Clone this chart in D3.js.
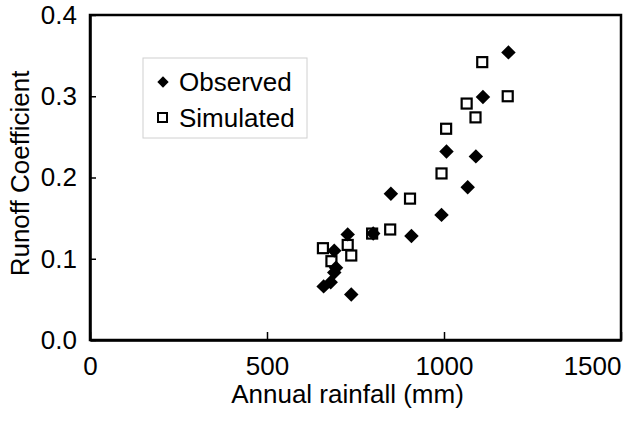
<!DOCTYPE html>
<html>
<head>
<meta charset="utf-8">
<script src="https://cdn.jsdelivr.net/npm/d3@7"></script>
<style>
  body { margin: 0; background: #fff; }
  text { font-family: "Liberation Sans", Arial, sans-serif; fill: #000; }
</style>
</head>
<body>
<div id="chart"></div>
<script>
// data
var obsRain = [660, 680, 690, 695, 690, 728, 738, 800, 850, 908, 993, 1007, 1067, 1090, 1110, 1182];
var obsCoef = [0.066, 0.071, 0.083, 0.089, 0.110, 0.130, 0.056, 0.131, 0.180, 0.128, 0.154, 0.232, 0.188, 0.226, 0.299, 0.354];
var simRain = [658, 682, 728, 738, 797, 848, 904, 993, 1006, 1064, 1089, 1108, 1180];
var simCoef = [0.113, 0.097, 0.117, 0.104, 0.131, 0.136, 0.174, 0.205, 0.260, 0.291, 0.274, 0.342, 0.300];
var xTicks = [0, 500, 1000, 1500];
var yTicks = [0, 0.1, 0.2, 0.3, 0.4];

var margin = { top: 15, right: 2, bottom: 85, left: 90 },
    width = 623 - margin.left - margin.right,
    height = 425 - margin.top - margin.bottom;

var svg = d3.select("#chart")
    .append("svg")
    .attr("width", 623)
    .attr("height", 425)
    .append("g")
    .attr("transform", "translate(" + margin.left + "," + margin.top + ")");

var x = d3.scaleLinear().domain([0, 1500]).range([0, width]);
var y = d3.scaleLinear().domain([0, 0.4]).range([height, 0]);

// frame
svg.append("rect")
    .attr("width", width)
    .attr("height", height)
    .attr("fill", "none")
    .attr("stroke", "#000")
    .attr("stroke-width", 2.5);

// X axis
var gx = svg.append("g")
    .attr("transform", "translate(0," + height + ")")
    .call(d3.axisBottom(x).tickValues(xTicks).tickSizeInner(-8).tickSizeOuter(0).tickPadding(17)
        .tickFormat(d3.format("d")));
gx.select(".domain").attr("stroke-width", 2.5);
gx.selectAll(".tick line").attr("stroke-width", 1.5);
gx.selectAll("text").style("font-size", "26px").attr("font-family", null);
gx.selectAll(".tick").filter(function (d) { return d === 1500; })
    .select("text").attr("text-anchor", "end");

// Y axis
var gy = svg.append("g")
    .call(d3.axisLeft(y).tickValues(yTicks).tickSizeInner(-6).tickSizeOuter(0).tickPadding(13)
        .tickFormat(d3.format(".1f")));
gy.select(".domain").attr("stroke-width", 2.5);
gy.selectAll(".tick line").attr("stroke-width", 1.5);
gy.selectAll("text").style("font-size", "26px").attr("font-family", null);

// axis titles
svg.append("text")
    .attr("text-anchor", "middle")
    .attr("x", width / 2 - 8)
    .attr("y", height + 63)
    .style("font-size", "26px")
    .text("Annual rainfall (mm)");

svg.append("text")
    .attr("text-anchor", "middle")
    .attr("transform", "rotate(-90)")
    .attr("x", -(height / 2) + 4)
    .attr("y", -61)
    .style("font-size", "26px")
    .text("Runoff Coefficient");

var diamond = d3.symbol().type(d3.symbolSquare).size(105);

// simulated: open squares
svg.append("g").selectAll("rect")
    .data(d3.range(simRain.length))
    .enter()
    .append("rect")
    .attr("x", function (i) { return x(simRain[i]) - 5; })
    .attr("y", function (i) { return y(simCoef[i]) - 5; })
    .attr("width", 10)
    .attr("height", 10)
    .attr("fill", "#fff")
    .attr("stroke", "#000")
    .attr("stroke-width", 2.2);

// observed: filled diamonds
svg.append("g").selectAll("path")
    .data(d3.range(obsRain.length))
    .enter()
    .append("path")
    .attr("d", diamond)
    .attr("transform", function (i) {
        return "translate(" + x(obsRain[i]) + "," + y(obsCoef[i]) + ") rotate(45)";
    })
    .attr("fill", "#000");

// legend
var legend = svg.append("g").attr("transform", "translate(53,43)");
legend.append("rect")
    .attr("width", 164)
    .attr("height", 80)
    .attr("fill", "#fff")
    .attr("stroke", "#d0d0d0")
    .attr("stroke-width", 1);
legend.append("path")
    .attr("d", d3.symbol().type(d3.symbolSquare).size(64))
    .attr("transform", "translate(20,24) rotate(45)")
    .attr("fill", "#000");
legend.append("rect")
    .attr("x", 15).attr("y", 55)
    .attr("width", 9).attr("height", 9)
    .attr("fill", "#fff")
    .attr("stroke", "#000")
    .attr("stroke-width", 2);
legend.append("text")
    .attr("x", 36).attr("y", 24)
    .attr("dy", "0.35em")
    .style("font-size", "26px")
    .text("Observed");
legend.append("text")
    .attr("x", 36).attr("y", 60)
    .attr("dy", "0.35em")
    .style("font-size", "26px")
    .text("Simulated");
</script>
</body>
</html>
